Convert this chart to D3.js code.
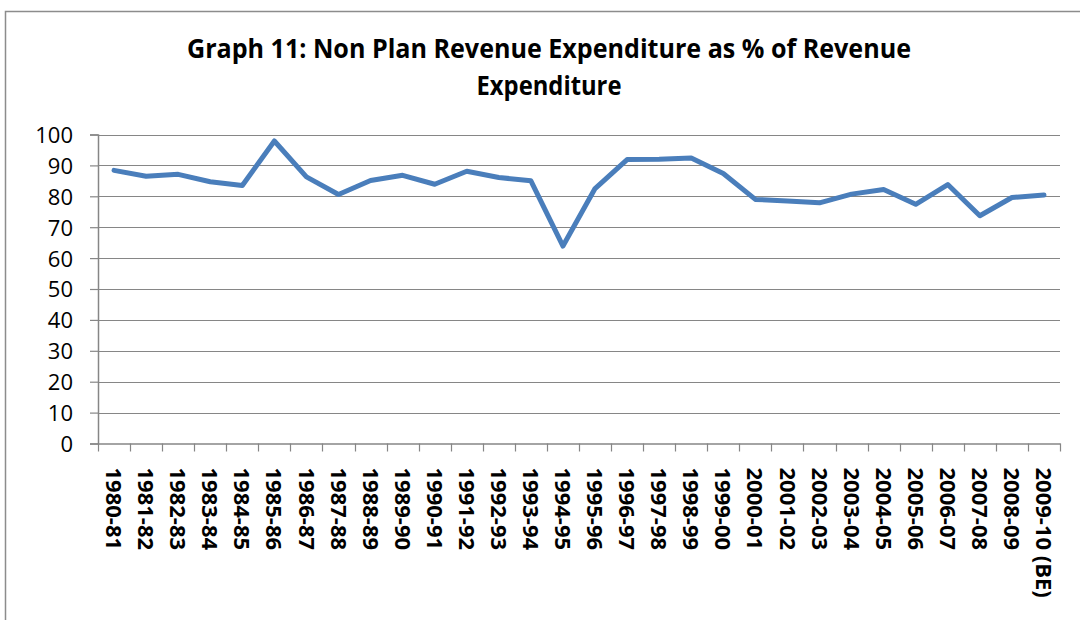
<!DOCTYPE html>
<html><head><meta charset="utf-8">
<script src="https://cdn.jsdelivr.net/npm/d3@7"></script>
<style>body{margin:0;background:#fff}svg{display:block}</style>
</head><body>
<svg id="c" width="1080" height="620"></svg>
<script>
const categories = ["1980-81","1981-82","1982-83","1983-84","1984-85","1985-86","1986-87","1987-88","1988-89","1989-90","1990-91","1991-92","1992-93","1993-94","1994-95","1995-96","1996-97","1997-98","1998-99","1999-00","2000-01","2001-02","2002-03","2003-04","2004-05","2005-06","2006-07","2007-08","2008-09","2009-10 (BE)"];
const values = [88.4,86.5,87.1,84.7,83.5,97.9,86.3,80.6,85.1,86.8,83.9,88.1,86.1,85.0,63.9,82.5,91.9,92.0,92.4,87.4,79.0,78.5,77.9,80.7,82.2,77.4,83.8,73.7,79.6,80.4];
const yTicks = [0,10,20,30,40,50,60,70,80,90,100];
const titleLines = ["Graph 11: Non Plan Revenue Expenditure as % of Revenue","Expenditure"];

const svg = d3.select("#c");
const L = 98, R = 1060, T = 134.5, B = 443.5;
const axisColor = "#868686";
const fam = "'Open Sans', 'Liberation Sans', Arial, sans-serif";

// frame
svg.append("rect").attr("x",5.5).attr("y",11.5).attr("width",1090).attr("height",620)
  .attr("fill","none").attr("stroke","#8c8c8c").attr("stroke-width",1.5);

const x = d3.scaleBand().domain(categories).range([L,R]).padding(0);
const y = d3.scaleLinear().domain([0,100]).range([B,T]);

// gridlines
svg.append("g").selectAll("line").data(yTicks.filter(d=>d>0)).join("line")
  .attr("x1",L).attr("x2",R).attr("y1",d=>Math.round(y(d))+0.5).attr("y2",d=>Math.round(y(d))+0.5)
  .attr("stroke",axisColor).attr("stroke-width",1.2);

// y axis
const ya = svg.append("g").attr("transform",`translate(${L},0)`)
  .call(d3.axisLeft(y).tickValues(yTicks).tickSize(8).tickPadding(17));
ya.select(".domain").attr("stroke",axisColor).attr("stroke-width",1.5);
ya.selectAll(".tick line").attr("stroke",axisColor).attr("stroke-width",1.2);
ya.selectAll(".tick text").attr("font-family",fam)
  .attr("font-size",22).attr("fill","#000").attr("dy","0.36em");

// x axis
const xa = svg.append("g").attr("transform",`translate(0,${B})`)
  .call(d3.axisBottom(x).tickSize(0).tickFormat(d=>d));
xa.select(".domain").attr("stroke",axisColor).attr("stroke-width",1.5);
xa.selectAll(".tick text")
  .attr("font-family",fam)
  .attr("font-weight","bold").attr("font-size",22).attr("fill","#000")
  .attr("transform","translate(0,24) rotate(90)").attr("text-anchor","start").attr("dy","0.36em").attr("y",0).attr("x",0);
// boundary ticks
const bounds = categories.map(c=>x(c)).concat([R]);
svg.append("g").selectAll("line").data(bounds).join("line")
  .attr("x1",d=>Math.round(d)+0.5).attr("x2",d=>Math.round(d)+0.5).attr("y1",B).attr("y2",B+8)
  .attr("stroke",axisColor).attr("stroke-width",1.2);

// line
const line = d3.line().x((d,i)=>x(categories[i])+x.bandwidth()/2).y(d=>y(d));
svg.append("path").datum(values).attr("d",line).attr("fill","none")
  .attr("stroke","#4a7ebb").attr("stroke-width",5).attr("stroke-linejoin","round").attr("stroke-linecap","round");

// title
const tt = svg.append("text").attr("font-family","'Liberation Sans Narrow', 'Open Sans', 'Liberation Sans', sans-serif")
  .attr("font-weight","bold").attr("font-size",27).attr("fill","#000").attr("text-anchor","middle");
tt.append("tspan").attr("x",549).attr("y",58).text(titleLines[0]).attr("textLength",724).attr("lengthAdjust","spacingAndGlyphs");
tt.append("tspan").attr("x",549).attr("y",95).text(titleLines[1]).attr("textLength",145).attr("lengthAdjust","spacingAndGlyphs");
</script>
</body></html>
